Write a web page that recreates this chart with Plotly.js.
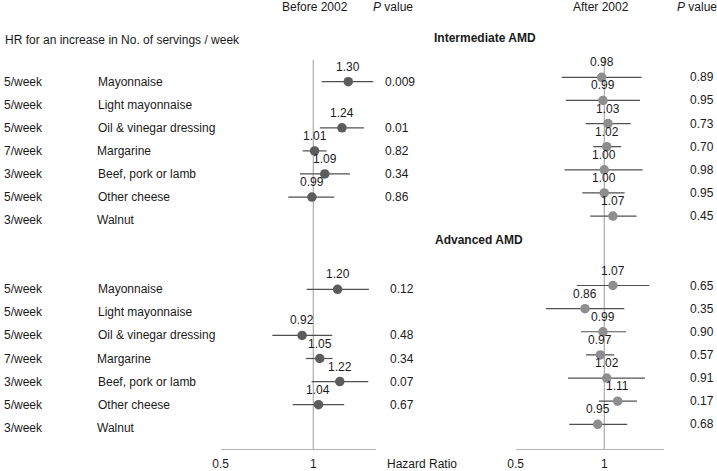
<!DOCTYPE html>
<html>
<head>
<meta charset="utf-8">
<script src="https://cdn.plot.ly/plotly-3.0.1.min.js"></script>
<style>html,body{margin:0;padding:0;background:#fff;}#chart{width:717px;height:471px;}</style>
</head>
<body>
<div id="chart"></div>
<script>
// ---------- DATA ----------
const doses = ['5/week','5/week','5/week','7/week','3/week','5/week','3/week'];
const foods = ['Mayonnaise','Light mayonnaise','Oil & vinegar dressing','Margarine','Beef, pork or lamb','Other cheese','Walnut'];
const groups = ['Intermediate AMD','Advanced AMD'];
const tickVals = [0.5, 1];
const tickText = ['0.5', '1'];

// Before 2002
const beforeIntHR = [1.30, null, 1.24, 1.01, 1.09, 0.99, null];
const beforeIntLo = [1.065, null, 1.051, 0.924, 0.905, 0.829, null];
const beforeIntHi = [1.567, null, 1.462, 1.105, 1.316, 1.170, null];
const beforeIntP  = ['0.009', '', '0.01', '0.82', '0.34', '0.86', ''];

const beforeAdvHR = [1.20, null, 0.92, 1.05, 1.22, 1.04, null];
const beforeAdvLo = [0.952, null, 0.736, 0.947, 0.988, 0.857, null];
const beforeAdvHi = [1.517, null, 1.153, 1.156, 1.510, 1.261, null];
const beforeAdvP  = ['0.12', '', '0.48', '0.34', '0.07', '0.67', ''];

// After 2002
const afterIntHR = [0.98, 0.99, 1.03, 1.02, 1.00, 1.00, 1.07];
const afterIntLo = [0.717, 0.741, 0.865, 0.918, 0.733, 0.842, 0.896];
const afterIntHi = [1.340, 1.322, 1.229, 1.142, 1.350, 1.173, 1.288];
const afterIntP  = ['0.89', '0.95', '0.73', '0.70', '0.98', '0.95', '0.45'];

const afterAdvHR = [1.07, 0.86, 0.99, 0.97, 1.02, 1.11, 0.95];
const afterAdvLo = [0.806, 0.634, 0.833, 0.867, 0.753, 0.959, 0.760];
const afterAdvHi = [1.422, 1.170, 1.185, 1.081, 1.375, 1.292, 1.197];
const afterAdvP  = ['0.65', '0.35', '0.90', '0.57', '0.91', '0.17', '0.68'];

// ---------- LAYOUT HELPERS ----------
const W = 717, H = 471;
const FONT = 'Liberation Sans, Arial, Helvetica, sans-serif';
const TXT = '#1a1a1a';
const px = x => x / W;
const py = y => 1 - y / H;
const AXIS_Y = 449;
const GROUP_STEP = 9;
const rowIdx = (g, i) => g * GROUP_STEP + i;
// row -> pixel mapping per panel (row0 pixel, spacing)
const panels = {
  left:  {r0: 81.7, step: 23.067, lineTop: 60},
  right: {r0: 77.3, step: 23.133, lineTop: 57}
};
const pxToRow = (p, y) => (y - p.r0) / p.step;

const traces = [];
const annotations = [];

function addPanel(xa, ya, p, sets, markerColor, pvalX) {
  // reference line at HR = 1
  traces.push({x: [1, 1], y: [pxToRow(p, p.lineTop), pxToRow(p, AXIS_Y)], xaxis: xa, yaxis: ya,
    mode: 'lines', line: {color: '#9a9a9a', width: 1}, hoverinfo: 'skip'});
  sets.forEach((s, g) => {
    const cx = [], cy = [], mx = [], my = [];
    s.hr.forEach((v, i) => {
      if (v === null) return;
      const r = rowIdx(g, i);
      cx.push(s.lo[i], s.hi[i], null); cy.push(r, r, null);
      mx.push(v); my.push(r);
      annotations.push({xref: xa, yref: ya, x: Math.log10(v), y: r, yshift: 15,
        text: v.toFixed(2), showarrow: false, font: {family: FONT, size: 12, color: TXT},
        xanchor: 'center', yanchor: 'middle'});
    });
    traces.push({x: cx, y: cy, xaxis: xa, yaxis: ya, mode: 'lines',
      line: {color: '#505050', width: 1.2}, hoverinfo: 'skip', connectgaps: false});
    traces.push({x: mx, y: my, xaxis: xa, yaxis: ya, mode: 'markers',
      marker: {size: 9.5, color: markerColor}});
    s.p.forEach((t, i) => {
      if (!t) return;
      annotations.push({xref: 'paper', yref: ya, x: px(pvalX[g]), y: rowIdx(g, i), text: t,
        showarrow: false, xanchor: 'left', yanchor: 'middle',
        font: {family: FONT, size: 12, color: TXT}});
    });
  });
}

addPanel('x', 'y', panels.left, [
  {hr: beforeIntHR, lo: beforeIntLo, hi: beforeIntHi, p: beforeIntP},
  {hr: beforeAdvHR, lo: beforeAdvLo, hi: beforeAdvHi, p: beforeAdvP}
], '#5c5c5c', [383, 388]);

addPanel('x2', 'y2', panels.right, [
  {hr: afterIntHR, lo: afterIntLo, hi: afterIntHi, p: afterIntP},
  {hr: afterAdvHR, lo: afterAdvLo, hi: afterAdvHi, p: afterAdvP}
], '#8e8e8e', [688, 688]);

// row labels (left side)
[0, 1].forEach(g => {
  doses.forEach((d, i) => {
    annotations.push({xref: 'paper', yref: 'y', x: px(1.5), y: rowIdx(g, i), text: d,
      showarrow: false, xanchor: 'left', yanchor: 'middle', font: {family: FONT, size: 12, color: TXT}});
    annotations.push({xref: 'paper', yref: 'y', x: px(95.5), y: rowIdx(g, i), text: foods[i],
      showarrow: false, xanchor: 'left', yanchor: 'middle', font: {family: FONT, size: 12, color: TXT}});
  });
});

function txt(x, y, text, anchor, extra) {
  annotations.push(Object.assign({xref: 'paper', yref: 'paper', x: px(x), y: py(y), text: text,
    showarrow: false, xanchor: anchor, yanchor: 'middle',
    font: {family: FONT, size: 12, color: TXT}}, extra || {}));
}
txt(315, 7, 'Before 2002', 'center');
txt(393, 7, '<i>P</i> value', 'center');
txt(601, 7, 'After 2002', 'center');
txt(696.5, 7, '<i>P</i> value', 'center');
txt(3, 40, 'HR for an increase in No. of servings / week', 'left');
txt(431.5, 38, '<b>' + groups[0] + '</b>', 'left');
txt(433, 239.5, '<b>' + groups[1] + '</b>', 'left');
txt(385, 464, 'Hazard Ratio', 'left');

const xBase = {
  type: 'log', range: [Math.log10(0.5), Math.log10(1.6)],
  showline: true, linecolor: '#b5b5b5', linewidth: 1,
  ticks: 'inside', ticklen: 4, tickcolor: '#b5b5b5', tickwidth: 1,
  tickvals: tickVals, ticktext: tickText, ticklabelstandoff: 4,
  showgrid: false, zeroline: false, fixedrange: true,
  tickfont: {family: FONT, size: 12, color: TXT}
};
const yBase = {visible: false, showgrid: false, zeroline: false, fixedrange: true,
  domain: [py(AXIS_Y), 1]};
const yRange = p => [pxToRow(p, AXIS_Y), pxToRow(p, 0)];

const layout = {
  width: W, height: H, margin: {l: 0, r: 0, t: 0, b: 0},
  paper_bgcolor: '#ffffff', plot_bgcolor: 'rgba(0,0,0,0)', showlegend: false,
  xaxis: Object.assign({}, xBase, {domain: [px(220.7), px(376)], anchor: 'y'}),
  yaxis: Object.assign({}, yBase, {range: yRange(panels.left), anchor: 'x'}),
  xaxis2: Object.assign({}, xBase, {domain: [px(515.7), px(664.3)], anchor: 'y2'}),
  yaxis2: Object.assign({}, yBase, {range: yRange(panels.right), anchor: 'x2'}),
  annotations: annotations
};

Plotly.newPlot('chart', traces, layout, {displayModeBar: false, staticPlot: true});
</script>
</body>
</html>
